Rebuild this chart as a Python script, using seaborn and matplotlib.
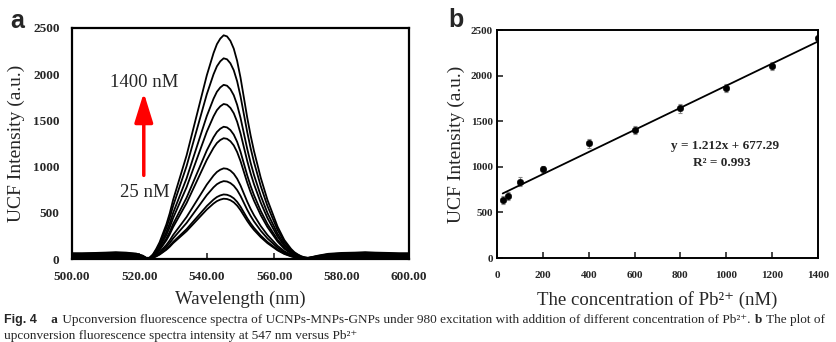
import numpy as np
import pandas as pd
import matplotlib
matplotlib.use("Agg")
import matplotlib.pyplot as plt
import seaborn as sns

# ---------------- data ----------------
# panel a: spectra
conc = [25, 50, 100, 200, 400, 600, 800, 1000, 1200, 1400]          # nM
peak_a = [650, 695, 838, 975, 1300, 1423, 1668, 1874, 2160, 2408]   # peak heights of the spectra
base_a = [12, 18, 24, 30, 36, 42, 48, 54, 60, 66]                   # baseline level of each spectrum

wl_left = [500, 503, 507, 510, 513, 516, 519, 521]
env_left = [0.95, 0.95, 1.0, 1.05, 1.12, 1.05, 0.9, 0.55]
wl_peak = list(range(522, 571))
shape_peak = [0.0, 0.0, 0.015, 0.04, 0.07, 0.11, 0.15, 0.20, 0.26, 0.31,
              0.36, 0.41, 0.46, 0.52, 0.58, 0.64, 0.70, 0.76, 0.82, 0.87,
              0.92, 0.96, 0.985, 1.0, 0.995, 0.975, 0.94, 0.885, 0.81, 0.72,
              0.63, 0.55, 0.48, 0.42, 0.36, 0.31, 0.26, 0.22, 0.18, 0.14,
              0.11, 0.08, 0.06, 0.04, 0.025, 0.015, 0.007, 0.002, 0.0]
env_peak = [0.2] * len(wl_peak)
wl_right = [571, 573, 576, 580, 584, 587, 590, 594, 597, 600]
env_right = [0.3, 0.55, 0.85, 1.0, 1.05, 1.12, 1.05, 1.0, 0.95, 0.95]

# panel b: calibration
conc_b = [25, 50, 100, 200, 400, 600, 800, 1000, 1200, 1400]
inten_b = [640, 682, 838, 974, 1259, 1405, 1642, 1860, 2105, 2409]
err_b = [45, 45, 45, 40, 50, 40, 50, 45, 40, 20]
slope, intercept = 1.212, 677.29

xticks_a = [500, 520, 540, 560, 580, 600]
yticks = [0, 500, 1000, 1500, 2000, 2500]
xticks_b = [0, 200, 400, 600, 800, 1000, 1200, 1400]

# ---------------- build spectra table ----------------
wl = wl_left + wl_peak + wl_right
env = env_left + env_peak + env_right
shape = [0.0] * len(wl_left) + shape_peak + [0.0] * len(wl_right)
rows = []
for c, p, b in zip(conc, peak_a, base_a):
    for w, e, s in zip(wl, env, shape):
        rows.append({"wl": w, "I": b * e + p * s, "conc": c})
df_a = pd.DataFrame(rows)

# ---------------- style ----------------
sns.set_theme(style="ticks")
plt.rcParams["font.family"] = ["Liberation Serif", "DejaVu Serif"]
plt.rcParams["mathtext.fontset"] = "stix"

fig = plt.figure(figsize=(8.37, 3.42), dpi=100)
W, H = 837, 342
def ax_rect(l, t, r, b):
    return [l / W, (H - b) / H, (r - l) / W, (b - t) / H]

ax1 = fig.add_axes(ax_rect(72, 28, 409, 259))
ax2 = fig.add_axes(ax_rect(497, 30, 818, 258))

# ---- panel a ----
sns.lineplot(data=df_a, x="wl", y="I", units="conc", estimator=None,
             color="black", lw=1.3, ax=ax1)
ax1.set_xlim(500, 600)
ax1.set_ylim(0, 2500)
ax1.set_xticks(xticks_a)
ax1.set_xticklabels([f"{v:.2f}" for v in xticks_a])
ax1.set_yticks(yticks)
ax1.tick_params(axis="x", direction="in", length=4, width=1.2, pad=9, labelsize=9.5)
ax1.tick_params(axis="y", direction="in", length=0, pad=9, labelsize=9.5)
for lab in ax1.get_xticklabels() + ax1.get_yticklabels():
    lab.set_fontweight("bold")
ax1.set_xlabel("Wavelength (nm)", fontsize=13.5, labelpad=5)
ax1.set_ylabel("UCF Intensity (a.u.)", fontsize=14, labelpad=6)
for sp in ax1.spines.values():
    sp.set_linewidth(1.6)
    sp.set_color("black")

ax1.annotate("", xy=(521.3, 1800), xytext=(521.3, 905),
             arrowprops=dict(arrowstyle="-|>,head_length=0.9,head_width=0.28",
                             color="#ff0000", lw=2.5, mutation_scale=20,
                             shrinkA=0, shrinkB=0))
ax1.text(521.5, 1915, "1400 nM", fontsize=13.5, ha="center", va="center")
ax1.text(521.5, 725, "25 nM", fontsize=13.5, ha="center", va="center")

# ---- panel b ----
ax2.errorbar(conc_b, inten_b, yerr=err_b, fmt="none", ecolor="#888888",
             elinewidth=0.8, capsize=1.5, capthick=0.8, zorder=2)
sns.scatterplot(x=conc_b, y=inten_b, color="black", s=22, edgecolor="black",
                ax=ax2, zorder=3)
fit_x = np.array([conc_b[0], conc_b[-1]])
sns.lineplot(x=fit_x, y=slope * fit_x + intercept, color="black", lw=1.3, ax=ax2)
ax2.set_xlim(0, 1400)
ax2.set_ylim(0, 2500)
ax2.set_xticks(xticks_b)
ax2.set_yticks(yticks)
ax2.tick_params(axis="x", direction="in", length=4, width=1.2, pad=9, labelsize=8)
ax2.tick_params(axis="y", direction="in", length=4, width=1.2, pad=3, labelsize=8)
for lab in ax2.get_xticklabels() + ax2.get_yticklabels():
    lab.set_fontweight("bold")
ax2.set_xlabel("The concentration of Pb\u00b2\u207a (nM)", fontsize=13.5, labelpad=8)
ax2.set_ylabel("UCF Intensity (a.u.)", fontsize=14, labelpad=4)
for sp in ax2.spines.values():
    sp.set_linewidth(1.4)
    sp.set_color("black")
ax2.text(0.71, 0.491, f"y = {slope}x + {intercept}", transform=ax2.transAxes,
         fontsize=9.5, fontweight="bold", ha="center", va="center")
ax2.text(0.70, 0.417, "R\u00b2 = 0.993", transform=ax2.transAxes,
         fontsize=9.5, fontweight="bold", ha="center", va="center")

# panel letters
fig.text(10 / W, (H - 28) / H, "a", fontsize=18, fontweight="bold",
         family=["Liberation Sans", "DejaVu Sans"], ha="left", va="baseline")
fig.text(448 / W, (H - 27) / H, "b", fontsize=18, fontweight="bold",
         family=["Liberation Sans", "DejaVu Sans"], ha="left", va="baseline")

# caption
fig.canvas.draw()
renderer = fig.canvas.get_renderer()

def chain(pieces, x0, ybase):
    x = x0
    for txt, kw in pieces:
        t = fig.text(x / W, (H - ybase) / H, txt, ha="left", va="baseline", **kw)
        bb = t.get_window_extent(renderer=renderer)
        x += bb.width + 1

serif = dict(fontsize=9.5, family=["Liberation Serif", "DejaVu Serif"])
serif_b = dict(fontsize=9.5, family=["Liberation Serif", "DejaVu Serif"], fontweight="bold")
sans_b = dict(fontsize=9, family=["Liberation Sans", "DejaVu Sans"], fontweight="bold")
chain([("Fig. 4", sans_b), ("\u2002\u2002a", serif_b),
       (" Upconversion fluorescence spectra of UCNPs-MNPs-GNPs under 980 excitation with addition of different concentration of Pb\u00b2\u207a. ", serif),
       ("b", serif_b), (" The plot of", serif)], 4, 323)
chain([("upconversion fluorescence spectra intensity at 547 nm versus Pb\u00b2\u207a", serif)], 4, 339)

fig.savefig("out.png", dpi=100)
